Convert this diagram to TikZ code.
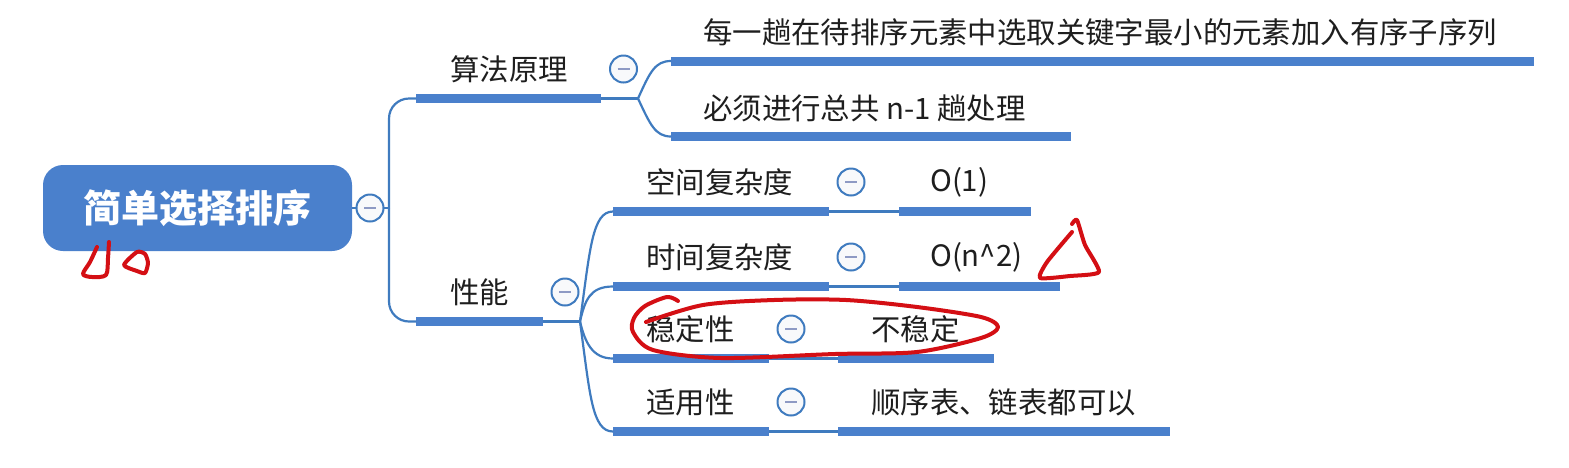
\documentclass[tikz,border=0pt]{standalone}
\usepackage{fontspec}
\setmainfont{Noto Sans CJK SC}
\definecolor{mapblue}{HTML}{4A80CC}
\definecolor{linkblue}{HTML}{3F7BBF}
\definecolor{minusgray}{HTML}{8E9AC4}
\definecolor{inkred}{HTML}{D40F14}
\definecolor{txt}{HTML}{1E1E1E}
\tikzset{
  x=1pt,y=-1pt,
  rootbox/.style={draw=none,fill=mapblue,rounded corners=20pt,inner sep=0pt,minimum width=309pt,minimum height=86pt,text=white,font=\fontsize{38}{42}\selectfont\bfseries},
  barbox/.style={fill=mapblue,inner sep=0pt,minimum height=9pt,anchor=west},
  label/.style={anchor=west,inner sep=0pt,text=txt,font=\fontsize{29.4}{34}\selectfont},
  toggle/.style={circle,draw=linkblue,line width=2pt,fill=white!94!minusgray,minimum size=27pt,inner sep=0pt,
    path picture={\draw[minusgray,line width=2pt] ([xshift=-6pt]path picture bounding box.center)--([xshift=6pt]path picture bounding box.center);}},
  link/.style={draw=linkblue,line width=2.2pt},
  ink/.style={draw=inkred,line width=4pt,line cap=round,line join=round}
}
\begin{document}
\begin{tikzpicture}
\useasboundingbox (0,0) rectangle (1569,467);
\fill[white] (0,0) rectangle (1569,467);
% bars
\node[barbox,minimum width=185pt] (b1) at (416,98.5) {};
\node[barbox,minimum width=127pt] (b2) at (416,321.5) {};
\node[barbox,minimum width=863pt] (c1) at (671,61) {};
\node[barbox,minimum width=400pt] (c2) at (671,136.5) {};
\node[barbox,minimum width=216pt] (d1) at (613,211.5) {};
\node[barbox,minimum width=132pt] (v1) at (899,211.5) {};
\node[barbox,minimum width=216pt] (d2) at (613,286.5) {};
\node[barbox,minimum width=161pt] (v2) at (899,286.5) {};
\node[barbox,minimum width=156pt] (d3) at (613,358.5) {};
\node[barbox,minimum width=156pt] (v3) at (838,358.5) {};
\node[barbox,minimum width=156pt] (d4) at (613,431.5) {};
\node[barbox,minimum width=332pt] (v4) at (838,431.5) {};
% root
\node[rootbox] (root) at (197.5,208) {简单选择排序};
\coordinate (j0) at (389,208);
\coordinate (j1) at (638,98.5);
\coordinate (j2) at (580,321.5);
% connectors
\draw[link] (root.east) -- (j0);
\draw[link,rounded corners=20pt] (j0) |- (b1.west);
\draw[link,rounded corners=20pt] (j0) |- (b2.west);
\draw[link] (b1.east) -- (j1);
\draw[link] (j1) .. controls (650,72) and (655,61) .. (c1.west);
\draw[link] (j1) .. controls (650,124) and (655,136.5) .. (c2.west);
\draw[link] (b2.east) -- (j2);
\draw[link] (j2) .. controls (590,250) and (592,211.5) .. (d1.west);
\draw[link] (j2) .. controls (585,300) and (590,286.5) .. (d2.west);
\draw[link] (j2) .. controls (585,342) and (592,358.5) .. (d3.west);
\draw[link] (j2) .. controls (590,395) and (592,431.5) .. (d4.west);
\draw[link] (d1.east) -- (v1.west);
\draw[link] (d2.east) -- (v2.west);
\draw[link] (d3.east) -- (v3.west);
\draw[link] (d4.east) -- (v4.west);
% toggles
\node[toggle] (t0) at (370,208) {};
\node[toggle] (t1) at (623.5,69) {};
\node[toggle] (t2) at (565,292) {};
\node[toggle] (t3) at (851,182) {};
\node[toggle] (t4) at (851,257) {};
\node[toggle] (t5) at (791,329) {};
\node[toggle] (t6) at (791,402) {};
% labels
\node[label] (l1) at (450,69) {算法原理};
\node[label] (l2) at (450,292) {性能};
\node[label] (l3) at (703,32) {每一趟在待排序元素中选取关键字最小的元素加入有序子序列};
\node[label] (l4) at (703,108) {必须进行总共 n-1 趟处理};
\node[label] (l5) at (646,182) {空间复杂度};
\node[label] (l6) at (930,182) {O(1)};
\node[label] (l7) at (646,257) {时间复杂度};
\node[label] (l8) at (930,257) {O(n\^{}2)};
\node[label] (l9) at (646,329) {稳定性};
\node[label] (l10) at (871,329) {不稳定};
\node[label] (l11) at (646,402) {适用性};
\node[label] (l12) at (871,402) {顺序表、链表都可以};
% red pen annotations
\draw[ink] plot[smooth,tension=0.5] coordinates {(97,247) (90,262) (83,274) (92,277) (106,275) (108,258) (109,242)};
\draw[ink] plot[smooth cycle,tension=0.4] coordinates {(124,265) (137,252) (145,254) (148,263) (145,273) (137,271)};
\draw[ink] plot[smooth,tension=0.35] coordinates {(1072,224) (1077,220) (1085,245) (1099,272) (1070,276) (1040,278) (1047,262) (1072,232)};
\draw[ink] plot[smooth,tension=0.5] coordinates {(678,301) (667,297) (645,306) (634,318) (633,332) (653,350) (721,358) (835,354) (917,352) (981,338) (998,327) (981,317) (917,307) (846,300) (774,300) (703,305) (646,322)};
\end{tikzpicture}
\end{document}
